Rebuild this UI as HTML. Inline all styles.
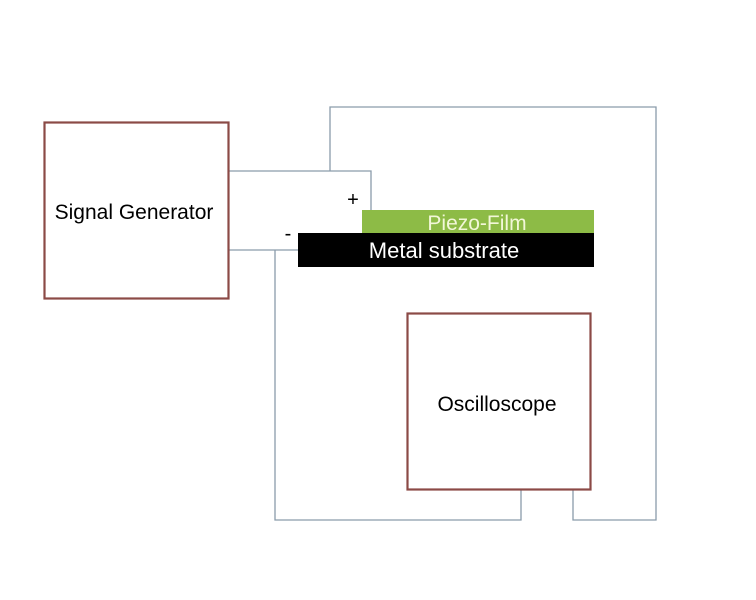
<!DOCTYPE html>
<html><head><style>
body{margin:0;background:#fff;}
</style></head><body>
<svg width="756" height="600" xmlns="http://www.w3.org/2000/svg" style="display:block">
<rect width="756" height="600" fill="#fff"/>
<g fill="none" stroke="#8a9cab" stroke-width="1.3">
<polyline points="228,171 371,171 371,210"/>
<polyline points="330,171 330,107 656,107 656,520 573,520 573,489"/>
<polyline points="228,250 298,250"/>
<polyline points="275,250 275,520 521,520 521,489"/>
</g>
<rect x="44.5" y="122.5" width="184" height="176" fill="#fff" stroke="#8b4a46" stroke-width="2.2"/>
<rect x="407.5" y="313.5" width="183" height="176" fill="#fff" stroke="#8b4a46" stroke-width="2.2"/>
<rect x="362" y="210" width="232" height="24" fill="#8dbb46"/>
<rect x="298" y="233" width="296" height="34" fill="#000"/>
<g font-family="Liberation Sans, sans-serif">
<text x="134" y="219" font-size="21" text-anchor="middle" fill="#000">Signal Generator</text>
<text x="497" y="411" font-size="21" text-anchor="middle" fill="#000">Oscilloscope</text>
<text x="477" y="230" font-size="21" text-anchor="middle" fill="#f2f7d8">Piezo-Film</text>
<text x="444" y="258" font-size="22" text-anchor="middle" fill="#fff">Metal substrate</text>
<text x="353" y="206" font-size="20" text-anchor="middle" fill="#000">+</text>
<text x="288" y="240" font-size="20" text-anchor="middle" fill="#000">-</text>
</g>
</svg>
</body></html>
